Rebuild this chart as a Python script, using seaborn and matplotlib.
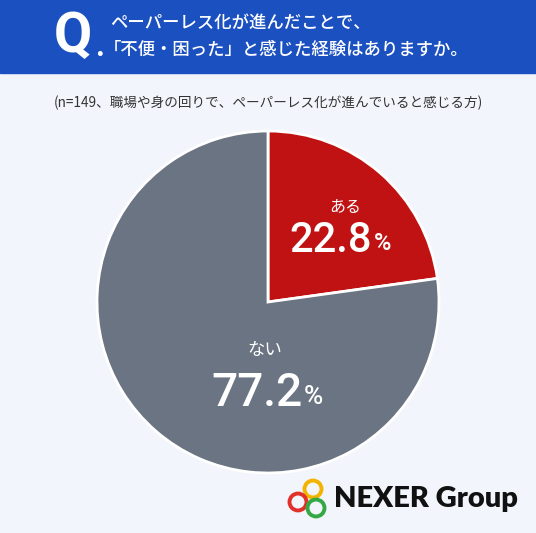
import matplotlib
matplotlib.use("Agg")
import matplotlib.pyplot as plt
import seaborn as sns
from matplotlib.patches import Circle, Rectangle

sns.set_style("white")
plt.rcParams["font.family"] = ["Noto Sans CJK JP", "DejaVu Sans"]

# data
labels = ["ある", "ない"]
values = [22.8, 77.2]
colors = ["#c01212", "#6b7482"]
title_lines = ["ペーパーレス化が進んだことで、", "「不便・困った」と感じた経験はありますか。"]
note = "(n=149、職場や身の回りで、ペーパーレス化が進んでいると感じる方)"

W, H = 536, 533
fig = plt.figure(figsize=(W / 100, H / 100), dpi=100)
fig.patch.set_facecolor("#f2f5fb")

# header band
fig.patches.append(Rectangle((0, 1 - 73 / H), 1, 73 / H, transform=fig.transFigure,
                             color="#1a50c0", zorder=0))
fig.text(73 / W, 1 - 37 / H, "Q", color="white", fontsize=40, fontweight="bold",
         ha="center", va="center", family="Roboto")
fig.text(100 / W, 1 - 47 / H, ".", color="white", fontsize=22, fontweight="bold",
         ha="center", va="center", family="Roboto")
fig.text(110 / W, 1 - 23 / H, title_lines[0], color="white", fontsize=12.5, va="center",
         fontweight="medium")
fig.text(104 / W, 1 - 50 / H, title_lines[1], color="white", fontsize=12.5, va="center",
         fontweight="medium")
fig.text(268 / W, 1 - 103 / H, note, color="#333333", fontsize=9.8, ha="center", va="center")

# pie
cx, cy, r = 268, 302, 171
ax = fig.add_axes([(cx - r) / W, (H - cy - r) / H, 2 * r / W, 2 * r / H])
ax.pie(values, colors=colors, startangle=90, counterclock=False,
       wedgeprops=dict(edgecolor="white", linewidth=2))
ax.set_xlim(-1, 1)
ax.set_ylim(-1, 1)
ax.set_facecolor("none")

# labels
ax.text(0.45, 0.55, labels[0], color="white", fontsize=11.5, ha="center", va="center")
ax.text(0.61, 0.36, f"{values[0]}", color="white", fontsize=30, ha="right", va="center",
        family="Roboto", fontweight="medium")
ax.text(0.62, 0.345, "%", color="white", fontsize=17, ha="left", va="center",
        family="Roboto", fontweight="medium")
ax.text(-0.02, -0.28, labels[1], color="white", fontsize=12.5, ha="center", va="center")
ax.text(0.2, -0.535, f"{values[1]}", color="white", fontsize=33, ha="right", va="center",
        family="Roboto", fontweight="medium")
ax.text(0.21, -0.555, "%", color="white", fontsize=19, ha="left", va="center",
        family="Roboto", fontweight="medium")

# logo
for (x, y, c) in [(313, 489, "#f2b400"), (298, 502, "#e0322b"), (316, 508, "#35a845")]:
    fig.patches.append(Circle((x / W, 1 - y / H), 8.5 / W, transform=fig.transFigure,
                              fill=False, edgecolor=c, linewidth=2.8))
fig.text(334 / W, 1 - 499 / H, "NEXER Group", color="#111111", fontsize=21,
         fontweight="heavy", va="center", family="Lato")

fig.savefig("out.png", dpi=100, facecolor=fig.get_facecolor())
